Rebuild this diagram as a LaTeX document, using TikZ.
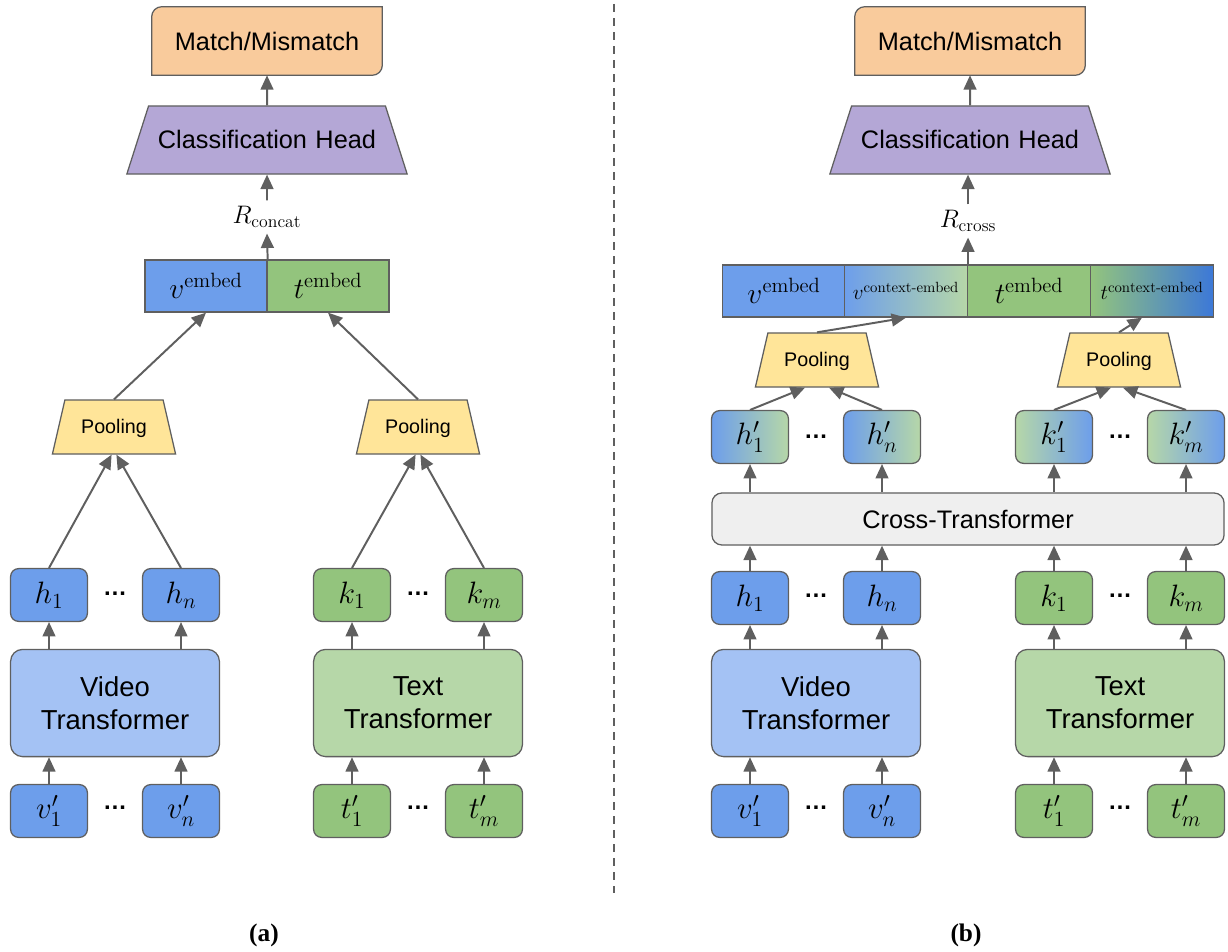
\RequirePackage{fix-cm}
\documentclass[tikz,border=0pt]{standalone}
\usepackage{amsmath}
\usepackage{fontspec}
\usetikzlibrary{shapes.geometric,arrows.meta,backgrounds}

\newfontfamily\labelsans{Liberation Sans}
\newfontfamily\capserif{Liberation Serif}

\definecolor{linegray}{HTML}{5F5F5F}
\definecolor{vblue}{HTML}{6D9EEB}
\definecolor{vbluelight}{HTML}{A4C2F4}
\definecolor{vbluedark}{HTML}{3C78D8}
\definecolor{tgreen}{HTML}{93C47D}
\definecolor{tgreenlight}{HTML}{B6D7A8}
\definecolor{poolyellow}{HTML}{FFE599}
\definecolor{headpurple}{HTML}{B4A7D6}
\definecolor{matchorange}{HTML}{F9CB9C}
\definecolor{crossgray}{HTML}{EFEFEF}

\newcommand{\bigsans}{\fontsize{18}{23.5}\selectfont\labelsans}
\newcommand{\formersans}{\fontsize{19.5}{23.5}\selectfont\labelsans}
\newcommand{\smallsans}{\fontsize{14}{16}\selectfont\labelsans}
\newcommand{\dotfont}{\fontsize{17}{20}\selectfont\labelsans\bfseries}
\newcommand{\boxmath}{\fontsize{22}{26}\selectfont}
\newcommand{\barmath}{\fontsize{21}{25}\selectfont}
\newcommand{\ctxmath}{\fontsize{15}{18}\selectfont}
\newcommand{\rmath}{\fontsize{18}{21}\selectfont}
\newcommand{\capfont}{\fontsize{18}{21}\selectfont\capserif\bfseries}

\begin{document}
\begin{tikzpicture}[x=0.025cm, y=-0.025cm,
    link/.style={draw=linegray, line width=1.4pt, -{Triangle[length=0.36cm, width=0.32cm]}},
    tok/.style={draw=linegray, line width=0.9pt, rounded corners=0.2cm, minimum width=1.92cm, minimum height=1.32cm, inner sep=0pt, font=\boxmath},
    former/.style={draw=linegray, line width=0.9pt, rounded corners=0.3cm, minimum width=5.22cm, minimum height=2.68cm, align=center, font=\formersans},
    crossbox/.style={draw=linegray, line width=0.9pt, rounded corners=0.25cm, fill=crossgray, minimum width=12.8cm, minimum height=1.3cm, font=\bigsans},
    cell/.style={draw=linegray, line width=0.9pt, minimum height=1.3cm, inner sep=0pt, font=\barmath},
    ctxcell/.style={cell, font=\ctxmath},
    pool/.style={trapezium, trapezium angle=77, draw=linegray, line width=0.9pt, fill=poolyellow, inner sep=0pt, text width=2.455cm, align=center, text height=0.845cm, text depth=0.505cm, font=\smallsans},
    head/.style={trapezium, trapezium angle=72.3, draw=linegray, line width=0.9pt, fill=headpurple, inner sep=0pt, text width=5.92cm, align=center, text height=1.07cm, text depth=0.63cm, font=\bigsans},
    match/.style={minimum width=5.75cm, minimum height=1.7cm, font=\bigsans},
    matchshape/.style={draw=linegray, line width=0.9pt, fill=matchorange},
    rlabel/.style={inner sep=4pt, font=\rmath},
    dots/.style={inner sep=0pt, font=\dotfont},
    capt/.style={font=\capfont}]

\useasboundingbox (0,0) rectangle (1228,952);

% (a) concatenation
\node[match] (ma) at (267,41) {Match/Mismatch};
\node[head] (ha) at (267,140) {Classification Head};
\node[rlabel] (ra) at (267,217) {$R_{\mathrm{concat}}$};
\node[cell, fill=vblue, minimum width=3.05cm] (vea) at (206,286) {$v^{\mathrm{embed}}$};
\node[cell, fill=tgreen, minimum width=3.05cm] (tea) at (328,286) {$t^{\mathrm{embed}}$};
\node[pool] (pva) at (114,427) {Pooling};
\node[pool] (pta) at (418,427) {Pooling};
\node[tok, fill=vblue] (h1a) at (49,595) {$h_1$};
\node[dots] (dha) at (115,594) {…};
\node[tok, fill=vblue] (hna) at (181,595) {$h_n$};
\node[tok, fill=tgreen] (k1a) at (352,595) {$k_1$};
\node[dots] (dka) at (418,594) {…};
\node[tok, fill=tgreen] (kma) at (484,595) {$k_m$};
\node[former, fill=vbluelight] (vta) at (115,703) {Video\\Transformer};
\node[former, fill=tgreenlight] (tta) at (418,703) {Text\\Transformer};
\node[tok, fill=vblue] (v1a) at (49,811) {$v'_1$};
\node[dots] (dva) at (115,808) {…};
\node[tok, fill=vblue] (vna) at (181,811) {$v'_n$};
\node[tok, fill=tgreen] (t1a) at (352,811) {$t'_1$};
\node[dots] (dta) at (418,808) {…};
\node[tok, fill=tgreen] (tma) at (484,811) {$t'_m$};
\node[capt] (capa) at (264,935) {(a)};

\draw[link] (ha.north) -- (ma.south);
\draw[link] (ra.north) -- (ha.south);
\draw[link] (vea.north east) -- (ra.south);
\draw[link] (pva.north) -- (vea.south);
\draw[link] (pta.north) -- (tea.south);
\draw[link] (h1a.north) -- ([xshift=-0.06cm]pva.south);
\draw[link] (hna.north) -- ([xshift=0.06cm]pva.south);
\draw[link] (k1a.north) -- ([xshift=-0.06cm]pta.south);
\draw[link] (kma.north) -- ([xshift=0.06cm]pta.south);
\draw[link] (vta.north -| h1a) -- (h1a.south);
\draw[link] (vta.north -| hna) -- (hna.south);
\draw[link] (tta.north -| k1a) -- (k1a.south);
\draw[link] (tta.north -| kma) -- (kma.south);
\draw[link] (v1a.north) -- (v1a.north |- vta.south);
\draw[link] (vna.north) -- (vna.north |- vta.south);
\draw[link] (t1a.north) -- (t1a.north |- tta.south);
\draw[link] (tma.north) -- (tma.north |- tta.south);

% separator
\coordinate (septop) at (614,4);
\coordinate (sepbot) at (614,893);
\draw[linegray, line width=0.9pt, dash pattern=on 0.2cm off 0.15cm] (septop) -- (sepbot);

% (b) cross-transformer
\node[match] (mb) at (970,41) {Match/Mismatch};
\node[head] (hb) at (970,140) {Classification Head};
\node[rlabel] (rb) at (968,221) {$R_{\mathrm{cross}}$};
\node[cell, fill=vblue, minimum width=3.07cm] (veb) at (784,291) {$v^{\mathrm{embed}}$};
\node[ctxcell, left color=vblue, right color=tgreenlight, minimum width=3.07cm] (vcb) at (906,291) {$v^{\mathrm{context\text{-}embed}}$};
\node[cell, fill=tgreen, minimum width=3.07cm] (teb) at (1029,291) {$t^{\mathrm{embed}}$};
\node[ctxcell, left color=tgreen, right color=vbluedark, minimum width=3.07cm] (tcb) at (1152,291) {$t^{\mathrm{context\text{-}embed}}$};
\node[pool] (pvb) at (817,360) {Pooling};
\node[pool] (ptb) at (1119,360) {Pooling};
\node[tok, left color=vblue, right color=tgreenlight] (hp1b) at (750,437) {$h'_1$};
\node[dots] (dhpb) at (816,437) {…};
\node[tok, left color=vblue, right color=tgreenlight] (hpnb) at (882,437) {$h'_n$};
\node[tok, left color=tgreenlight, right color=vblue] (kp1b) at (1054,437) {$k'_1$};
\node[dots] (dkpb) at (1120,437) {…};
\node[tok, left color=tgreenlight, right color=vblue] (kpmb) at (1186,437) {$k'_m$};
\node[crossbox] (ctb) at (968,519) {Cross-Transformer};
\node[tok, fill=vblue] (h1b) at (750,598) {$h_1$};
\node[dots] (dhb) at (816,596) {…};
\node[tok, fill=vblue] (hnb) at (882,598) {$h_n$};
\node[tok, fill=tgreen] (k1b) at (1054,598) {$k_1$};
\node[dots] (dkb) at (1120,596) {…};
\node[tok, fill=tgreen] (kmb) at (1186,598) {$k_m$};
\node[former, fill=vbluelight] (vtb) at (816,703) {Video\\Transformer};
\node[former, fill=tgreenlight] (ttb) at (1120,703) {Text\\Transformer};
\node[tok, fill=vblue] (v1b) at (750,811) {$v'_1$};
\node[dots] (dvb) at (816,808) {…};
\node[tok, fill=vblue] (vnb) at (882,811) {$v'_n$};
\node[tok, fill=tgreen] (t1b) at (1054,811) {$t'_1$};
\node[dots] (dtb) at (1120,808) {…};
\node[tok, fill=tgreen] (tmb) at (1186,811) {$t'_m$};
\node[capt] (capb) at (966,935) {(b)};

\draw[link] (hb.north) -- (mb.south);
\draw[link] (rb.north) -- (rb.north |- hb.south);
\draw[link] (vcb.north east) -- (vcb.north east |- rb.south);
\draw[link] (pvb.north) -- (vcb.south);
\draw[link] (ptb.north) -- ([xshift=-0.25cm]tcb.south);
\draw[link] (hp1b.north) -- ([xshift=-0.3cm]pvb.south);
\draw[link] (hpnb.north) -- ([xshift=0.3cm]pvb.south);
\draw[link] (kp1b.north) -- ([xshift=-0.2cm]ptb.south);
\draw[link] (kpmb.north) -- ([xshift=0.1cm]ptb.south);
\draw[link] (ctb.north -| hp1b) -- (hp1b.south);
\draw[link] (ctb.north -| hpnb) -- (hpnb.south);
\draw[link] (ctb.north -| kp1b) -- (kp1b.south);
\draw[link] (ctb.north -| kpmb) -- (kpmb.south);
\draw[link] (h1b.north) -- (h1b.north |- ctb.south);
\draw[link] (hnb.north) -- (hnb.north |- ctb.south);
\draw[link] (k1b.north) -- (k1b.north |- ctb.south);
\draw[link] (kmb.north) -- (kmb.north |- ctb.south);
\draw[link] (vtb.north -| h1b) -- (h1b.south);
\draw[link] (vtb.north -| hnb) -- (hnb.south);
\draw[link] (ttb.north -| k1b) -- (k1b.south);
\draw[link] (ttb.north -| kmb) -- (kmb.south);
\draw[link] (v1b.north) -- (v1b.north |- vtb.south);
\draw[link] (vnb.north) -- (vnb.north |- vtb.south);
\draw[link] (t1b.north) -- (t1b.north |- ttb.south);
\draw[link] (tmb.north) -- (tmb.north |- ttb.south);

% match boxes: rounded top-left and bottom-right corners only
\begin{scope}[on background layer]
\draw[matchshape] (ma.south west) -- ([yshift=-0.25cm]ma.north west) arc[start angle=180, end angle=90, radius=0.25cm] -- (ma.north east) -- ([yshift=0.25cm]ma.south east) arc[start angle=0, end angle=-90, radius=0.25cm] -- cycle;
\draw[matchshape] (mb.south west) -- ([yshift=-0.25cm]mb.north west) arc[start angle=180, end angle=90, radius=0.25cm] -- (mb.north east) -- ([yshift=0.25cm]mb.south east) arc[start angle=0, end angle=-90, radius=0.25cm] -- cycle;
\end{scope}
\end{tikzpicture}
\end{document}
